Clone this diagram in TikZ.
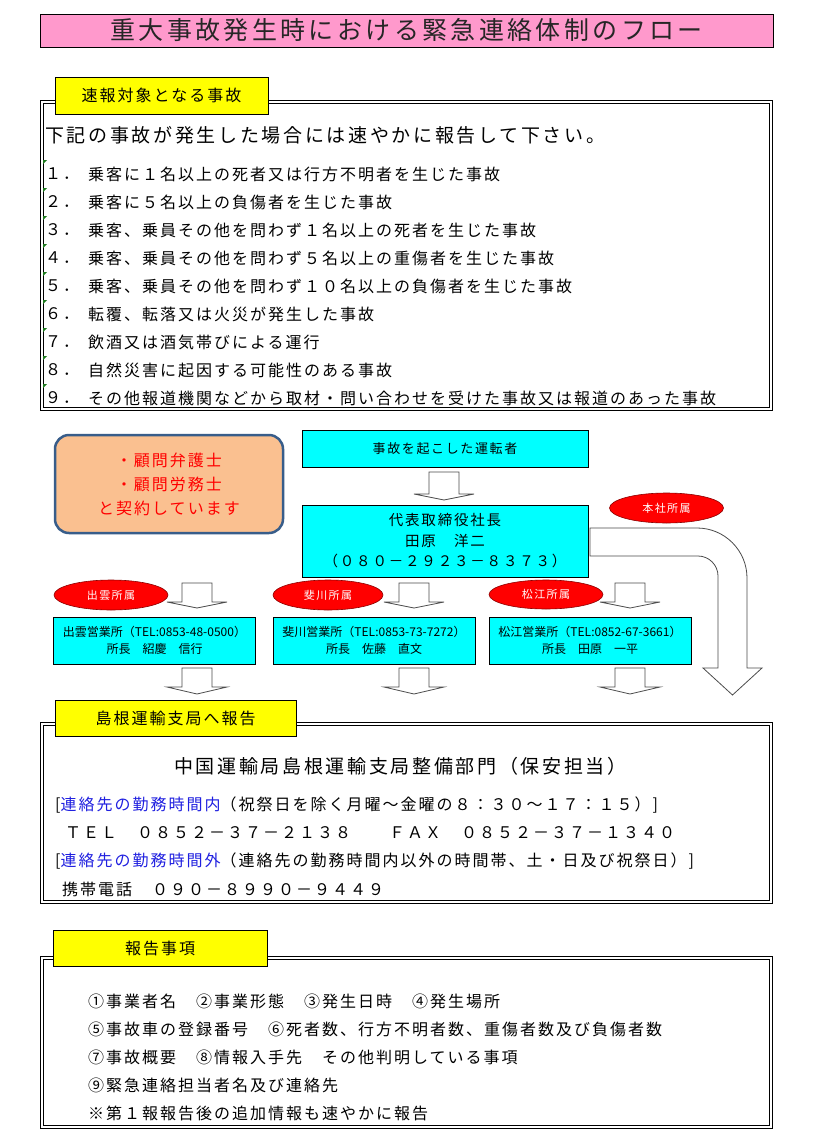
\documentclass[tikz,border=0pt]{standalone}
\usepackage{fontspec}
\usetikzlibrary{shapes.geometric}
\setmainfont{Noto Sans CJK JP}
\newfontfamily\jp[LetterSpace=12.5]{Noto Sans CJK JP}
\newfontfamily\jph[LetterSpace=14]{Noto Sans CJK JP}
\newfontfamily\jpt[LetterSpace=13.5]{Noto Sans CJK JP}
\newfontfamily\jpn{Noto Sans CJK JP}
\definecolor{titlepink}{HTML}{FF99CC}
\definecolor{labelyellow}{HTML}{FFFF00}
\definecolor{boxcyan}{HTML}{00FFFF}
\definecolor{orangefill}{HTML}{FAC090}
\definecolor{orangeline}{HTML}{385D8A}
\definecolor{ovalred}{HTML}{FF0000}
\definecolor{linkblue}{HTML}{2020E0}
\definecolor{markgreen}{HTML}{1E7A1E}
\newcommand{\blockdown}[4]{%
  \draw[blockarrow] ({#1-15},#2) -- ({#1+15},#2) -- ({#1+15},#3) -- ({#1+30},#3) -- (#1,#4) -- ({#1-30},#3) -- ({#1-15},#3) -- cycle;}
\tikzset{
  frameouter/.style={draw=black, line width=0.7pt, fill=white, inner sep=0pt},
  frameinner/.style={draw=black, line width=0.7pt, inner sep=0pt},
  labelbox/.style={draw=black, fill=labelyellow, line width=0.8pt, inner sep=0pt, font=\jp\fontsize{16}{19}\selectfont},
  cyanbox/.style={draw=black, fill=boxcyan, line width=0.8pt, inner sep=0pt},
  redoval/.style={ellipse, draw=red!55!black, fill=ovalred, line width=0.6pt, inner sep=0pt, text=white, minimum width=114pt, minimum height=30pt, font=\jp\fontsize{11}{12}\selectfont},
  blockarrow/.style={draw=black!70, fill=white, line width=0.8pt, line join=miter},
  bodytext/.style={inner sep=0pt, anchor=west, font=\jp\fontsize{16}{19}\selectfont},
  headtext/.style={inner sep=0pt, anchor=west, font=\jph\fontsize{19}{22}\selectfont},
  branchbox/.style={cyanbox, minimum width=202pt, minimum height=47pt, align=center, font=\jpn\fontsize{12}{17}\selectfont},
  marker/.style={fill=markgreen, draw=none},
}
\begin{document}
\begin{tikzpicture}[x=1pt,y=-1pt]
\useasboundingbox[fill=white] (0,0) rectangle (835,1140);

% title
\node[draw=black, fill=titlepink, line width=0.8pt, minimum width=733pt, minimum height=33pt, inner sep=0pt, text=black!85, font=\jpt\fontsize{25}{28}\selectfont] (title) at (406.5,30.5) {重大事故発生時における緊急連絡体制のフロー};

% section 1
\node[frameouter, minimum width=732pt, minimum height=310pt] (sec1) at (406.5,255) {};
\node[frameinner, minimum width=726pt, minimum height=304pt] (sec1in) at (406.5,255) {};
\node[labelbox, minimum width=213pt, minimum height=37pt] (lab1) at (161.5,95.5) {速報対象となる事故};
\node[headtext] (intro) at (45,135) {下記の事故が発生した場合には速やかに報告して下さい。};
\foreach \yy in {174,202,...,398} \fill[marker] (43,{\yy-14}) -- (47,{\yy-14}) -- (43,{\yy-10}) -- cycle;
\node[bodytext] (num1) at (45,174) {１．};
\node[bodytext] (item1) at (88,174) {乗客に１名以上の死者又は行方不明者を生じた事故};
\node[bodytext] (num2) at (45,202) {２．};
\node[bodytext] (item2) at (88,202) {乗客に５名以上の負傷者を生じた事故};
\node[bodytext] (num3) at (45,230) {３．};
\node[bodytext] (item3) at (88,230) {乗客、乗員その他を問わず１名以上の死者を生じた事故};
\node[bodytext] (num4) at (45,258) {４．};
\node[bodytext] (item4) at (88,258) {乗客、乗員その他を問わず５名以上の重傷者を生じた事故};
\node[bodytext] (num5) at (45,286) {５．};
\node[bodytext] (item5) at (88,286) {乗客、乗員その他を問わず１０名以上の負傷者を生じた事故};
\node[bodytext] (num6) at (45,314) {６．};
\node[bodytext] (item6) at (88,314) {転覆、転落又は火災が発生した事故};
\node[bodytext] (num7) at (45,342) {７．};
\node[bodytext] (item7) at (88,342) {飲酒又は酒気帯びによる運行};
\node[bodytext] (num8) at (45,370) {８．};
\node[bodytext] (item8) at (88,370) {自然災害に起因する可能性のある事故};
\node[bodytext] (num9) at (45,398) {９．};
\node[bodytext] (item9) at (88,398) {その他報道機関などから取材・問い合わせを受けた事故又は報道のあった事故};

% flow
\node[draw=orangeline, fill=orangefill, line width=2.5pt, rounded corners=14pt, minimum width=228pt, minimum height=98pt, inner sep=0pt, align=center, text=red, font=\jp\fontsize{16}{24}\selectfont] (advisors) at (169,484) {・顧問弁護士\\・顧問労務士\\と契約しています};

\node[cyanbox, minimum width=286pt, minimum height=37pt, font=\jp\fontsize{13}{15}\selectfont] (driver) at (445,448.5) {事故を起こした運転者};
\blockdown{444}{472}{494}{500}
\node[cyanbox, minimum width=286pt, minimum height=72pt, align=center, font=\jp\fontsize{14.5}{20.5}\selectfont] (ceo) at (445,541) {代表取締役社長\\田原　洋二\\（０８０－２９２３－８３７３）};

\node[redoval] (honsha) at (666.5,508) {本社所属};
\draw[blockarrow] (590,528) -- (697,528) .. controls (724.6,528) and (747,550.4) .. (747,578) -- (747,668) -- (762,668) -- (732.5,695) -- (703,668) -- (718,668) -- (718,576) .. controls (718,565) and (709,556) .. (698,556) -- (590,556) -- cycle;

\node[redoval] (izumoTag) at (111,595) {出雲所属};
\node[redoval, minimum width=110pt] (hikawaTag) at (328,595) {斐川所属};
\node[redoval, minimum height=29pt] (matsueTag) at (546,594.5) {松江所属};

\blockdown{197}{583}{602}{608}
\blockdown{414}{583}{602}{608}
\blockdown{630}{583}{602}{608}

\node[branchbox] (izumo) at (154.5,640.5) {出雲営業所（TEL:0853-48-0500）\\所長　紹慶　信行};
\node[branchbox] (hikawa) at (374,640.5) {斐川営業所（TEL:0853-73-7272）\\所長　佐藤　直文};
\node[branchbox] (matsue) at (590,640.5) {松江営業所（TEL:0852-67-3661）\\所長　田原　一平};

\blockdown{197}{668}{687}{694}
\blockdown{414}{668}{687}{694}
\blockdown{630}{668}{687}{694}

% section 2
\node[frameouter, minimum width=732pt, minimum height=181pt] (sec2) at (406.5,812.5) {};
\node[frameinner, minimum width=726pt, minimum height=175pt] (sec2in) at (406.5,812.5) {};
\node[labelbox, minimum width=241pt, minimum height=36pt] (lab2) at (175.5,718) {島根運輸支局へ報告};
\node[headtext] (office) at (174,766) {中国運輸局島根運輸支局整備部門（保安担当）};
\node[bodytext] (hoursIn) at (55,805) {[\textcolor{linkblue}{連絡先の勤務時間内}（祝祭日を除く月曜～金曜の８：３０～１７：１５）]};
\node[bodytext] (tel) at (65,833) {ＴＥＬ　０８５２－３７－２１３８　　ＦＡＸ　０８５２－３７－１３４０};
\node[bodytext] (hoursOut) at (55,861) {[\textcolor{linkblue}{連絡先の勤務時間外}（連絡先の勤務時間内以外の時間帯、土・日及び祝祭日）]};
\node[bodytext] (mobile) at (62,889) {携帯電話　０９０－８９９０－９４４９};

% section 3
\node[frameouter, minimum width=732pt, minimum height=172pt] (sec3) at (406.5,1042.5) {};
\node[frameinner, minimum width=726pt, minimum height=166pt] (sec3in) at (406.5,1042.5) {};
\node[labelbox, minimum width=214pt, minimum height=36pt] (lab3) at (160,948) {報告事項};
\node[bodytext] (rep1) at (88,1001) {①事業者名　②事業形態　③発生日時　④発生場所};
\node[bodytext] (rep2) at (88,1029) {⑤事故車の登録番号　⑥死者数、行方不明者数、重傷者数及び負傷者数};
\node[bodytext] (rep3) at (88,1057) {⑦事故概要　⑧情報入手先　その他判明している事項};
\node[bodytext] (rep4) at (88,1085) {⑨緊急連絡担当者名及び連絡先};
\node[bodytext] (rep5) at (88,1113) {※第１報報告後の追加情報も速やかに報告};
\end{tikzpicture}
\end{document}
